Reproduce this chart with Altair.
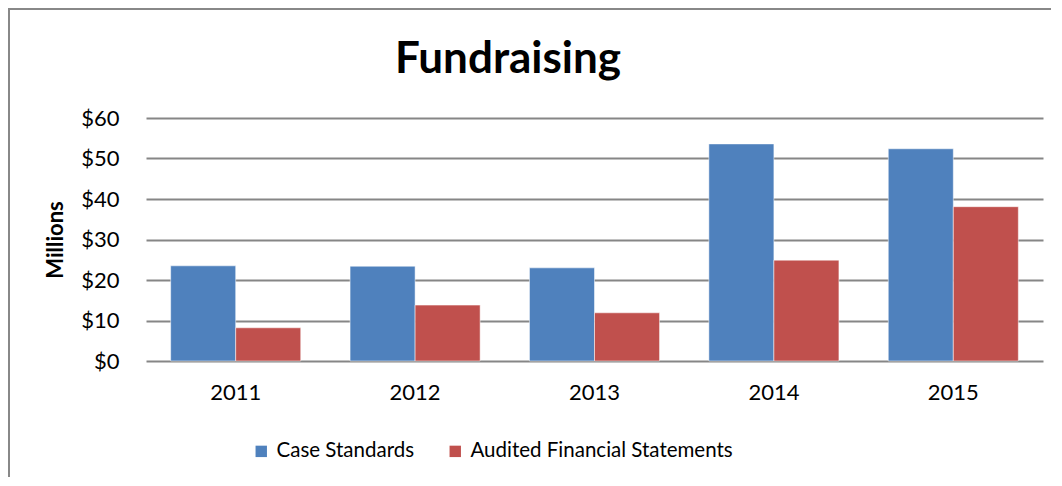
import altair as alt
import pandas as pd

years = ["2011", "2012", "2013", "2014", "2015"]
case_standards = [23.5, 23.4, 23.0, 53.6, 52.4]
audited = [8.2, 13.8, 11.9, 24.9, 38.1]
series = ["Case Standards", "Audited Financial Statements"]
colors = ["#4F81BD", "#C0504D"]
title_text = "Fundraising"

rows = []
for i, y in enumerate(years):
    rows.append({"year": y, "series": series[0], "value": case_standards[i]})
    rows.append({"year": y, "series": series[1], "value": audited[i]})
df = pd.DataFrame(rows)

FONT = "Lato"

bars = alt.Chart(df).mark_bar(stroke="white", strokeOpacity=0.5, strokeWidth=1).encode(
    x=alt.X("year:N", title=None, sort=years,
            scale=alt.Scale(paddingInner=0.275, paddingOuter=0.1375),
            axis=alt.Axis(labelAngle=0, ticks=False, domain=False, labelPadding=21,
                          labelFontSize=22, labelFont=FONT, labelColor="black")),
    xOffset=alt.XOffset("series:N", sort=series),
    y=alt.Y("value:Q", title="Millions",
            scale=alt.Scale(domain=[0, 60], nice=False),
            axis=alt.Axis(values=[0, 10, 20, 30, 40, 50, 60], format="$,.0f",
                          ticks=False, domain=False, labelPadding=27,
                          labelFontSize=22, labelFont=FONT, labelColor="black",
                          gridColor="#868686", gridWidth=2,
                          titleFont=FONT, titleFontSize=22, titleFontWeight="bold",
                          titleColor="black", titleX=-91, titleY=121.5,
                          titleAngle=270, titleAlign="center", titleBaseline="middle")),
    color=alt.Color("series:N", sort=series,
                    scale=alt.Scale(domain=series, range=colors),
                    legend=alt.Legend(title=None, orient="none", legendX=105, legendY=323,
                                      direction="horizontal", symbolType="square",
                                      symbolSize=130, symbolStrokeWidth=0,
                                      labelFontSize=20.5, labelFont=FONT, labelColor="black",
                                      labelLimit=0, columnPadding=30, labelOffset=5)),
)

border = alt.Chart(alt.Data(values=[{}])).mark_rect(
    fill=None, stroke="#888888", strokeWidth=2
).encode(
    x=alt.value(-137), x2=alt.value(1000),
    y=alt.value(-109), y2=alt.value(500),
)

title = alt.Chart(alt.Data(values=[{"t": title_text}])).mark_text(
    font=FONT, fontSize=44, fontWeight="bold", color="black",
    align="center", baseline="alphabetic"
).encode(
    text="t:N", x=alt.value(362), y=alt.value(-45),
)

chart = alt.layer(border, bars, title).properties(
    width=897, height=243,
    padding={"left": 138, "top": 110, "right": 8, "bottom": 116},
    autosize=alt.AutoSizeParams(type="none"),
).configure_view(stroke=None)

chart.save("out.html", embed_options={"renderer": "svg", "actions": False})
